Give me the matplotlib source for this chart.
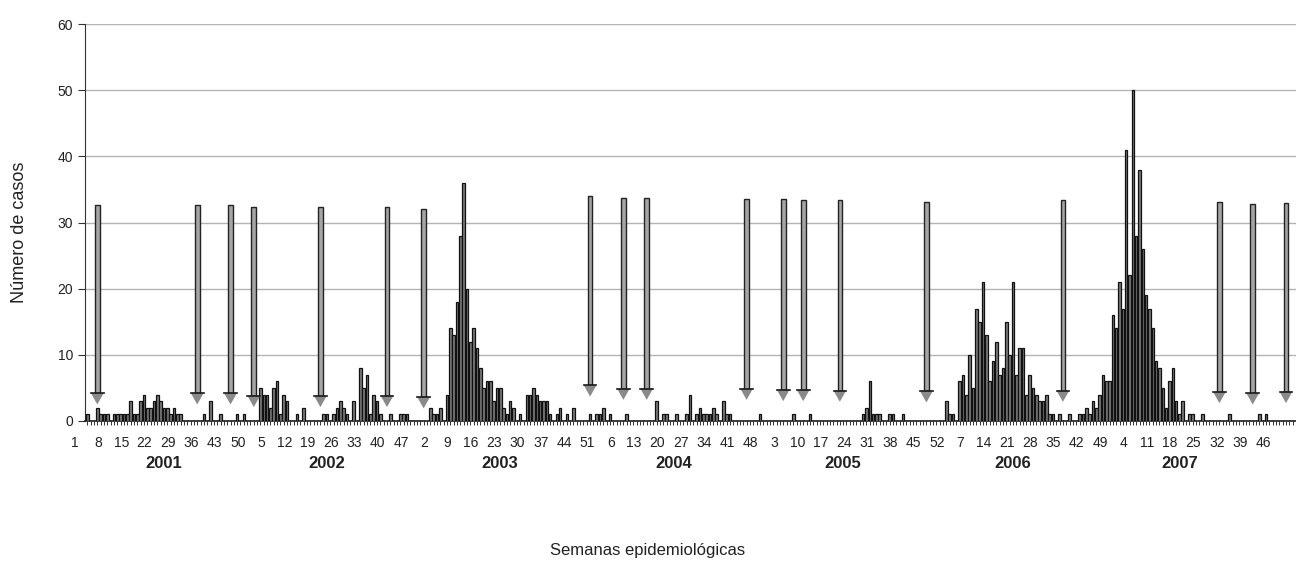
import numpy as np
import matplotlib
matplotlib.use("Agg")
import matplotlib.pyplot as plt

plt.rcParams['font.family'] = ['Liberation Sans', 'DejaVu Sans']

# casos semanales por año (52 semanas cada uno)
years = ["2001", "2002", "2003", "2004", "2005", "2006", "2007"]
cases_2001 = [1, 0, 0, 2, 1, 1, 1, 0, 1, 1, 1, 1, 1, 3, 1, 1, 3, 4, 2, 2,
              3, 4, 3, 2, 2, 1, 2, 1, 1, 0, 0, 0, 0, 0, 0, 1, 0, 3, 0, 0,
              1, 0, 0, 0, 0, 1, 0, 1, 0, 0, 0, 0]
cases_2002 = [5, 4, 4, 2, 5, 6, 1, 4, 3, 0, 0, 1, 0, 2, 0, 0, 0, 0, 0, 1,
              1, 0, 1, 2, 3, 2, 1, 0, 3, 0, 8, 5, 7, 1, 4, 3, 1, 0, 0, 1,
              0, 0, 1, 1, 1, 0, 0, 0, 0, 0, 0, 2]
cases_2003 = [1, 1, 2, 0, 4, 14, 13, 18, 28, 36, 20, 12, 14, 11, 8, 5, 6, 6, 3, 5,
              5, 2, 1, 3, 2, 0, 1, 0, 4, 4, 5, 4, 3, 3, 3, 1, 0, 1, 2, 0,
              1, 0, 2, 0, 0, 0, 0, 1, 0, 1, 1, 2]
cases_2004 = [0, 1, 0, 0, 0, 0, 1, 0, 0, 0, 0, 0, 0, 0, 0, 3, 0, 1, 1, 0,
              0, 1, 0, 0, 1, 4, 0, 1, 2, 1, 1, 1, 2, 1, 0, 3, 1, 1, 0, 0,
              0, 0, 0, 0, 0, 0, 1, 0, 0, 0, 0, 0]
cases_2005 = [0, 0, 0, 0, 1, 0, 0, 0, 0, 1, 0, 0, 0, 0, 0, 0, 0, 0, 0, 0,
              0, 0, 0, 0, 0, 1, 2, 6, 1, 1, 1, 0, 0, 1, 1, 0, 0, 1, 0, 0,
              0, 0, 0, 0, 0, 0, 0, 0, 0, 0, 3, 1]
cases_2006 = [1, 0, 6, 7, 4, 10, 5, 17, 15, 21, 13, 6, 9, 12, 7, 8, 15, 10, 21, 7,
              11, 11, 4, 7, 5, 4, 3, 3, 4, 1, 1, 0, 1, 0, 0, 1, 0, 0, 1, 1,
              2, 1, 3, 2, 4, 7, 6, 6, 16, 14, 21, 17]
cases_2007 = [41, 22, 50, 28, 38, 26, 19, 17, 14, 9, 8, 5, 2, 6, 8, 3, 1, 3, 0, 1,
              1, 0, 0, 1, 0, 0, 0, 0, 0, 0, 0, 1, 0, 0, 0, 0, 0, 0, 0, 0,
              1, 0, 1, 0, 0, 0, 0, 0, 0, 0, 0, 0]

# flechas: semana (índice correlativo), extremo superior y base de la punta
arrow_week = [3, 33, 43, 50, 70, 90, 101, 151, 161, 168, 198, 209, 215, 226,
              252, 293, 340, 350, 360]
arrow_top = [32.6, 32.6, 32.6, 32.4, 32.4, 32.4, 32.1, 34.0, 33.7, 33.7, 33.6,
             33.6, 33.4, 33.4, 33.1, 33.4, 33.1, 32.8, 33.0]
arrow_base = [4.2, 4.2, 4.2, 3.8, 3.8, 3.8, 3.6, 5.4, 4.9, 4.9, 4.9, 4.7, 4.7,
              4.6, 4.5, 4.6, 4.4, 4.2, 4.4]

year_label_offset = [23, 20, 20, 20, 19, 18, 16]

cases = np.concatenate([cases_2001, cases_2002, cases_2003, cases_2004,
                        cases_2005, cases_2006, cases_2007])
weeks = np.arange(len(cases))

fig = plt.figure(figsize=(12.96, 5.61), dpi=100)
ax = fig.add_axes([85 / 1296, 140 / 561, 1 - 85 / 1296, 397 / 561])

ax.bar(weeks, cases, width=0.78, color="#7a7a7a", edgecolor="#111111",
       linewidth=0.9, zorder=3)

# flechas
aw = np.array(arrow_week, dtype=float)
at = np.array(arrow_top)
ab = np.array(arrow_base)
ax.bar(aw, at - ab, bottom=ab, width=1.4, color="#a5a5a5",
       edgecolor="#222222", linewidth=1.0, zorder=4)
for x, b in zip(aw, ab):
    ax.fill([x - 1.9, x + 1.9, x], [b, b, b - 1.7], color="#8a8a8a",
            zorder=5, linewidth=0)
    ax.plot([x - 1.9, x + 1.9], [b, b], color="#1a1a1a", lw=1.2, zorder=6)

ax.set_xlim(-0.7, 363.0)
ax.set_ylim(0, 60)
ax.set_yticks(np.arange(0, 61, 10))
ax.yaxis.grid(True, color="#b4b4b4", linewidth=1.0)
ax.set_axisbelow(True)
for s in ["top", "right"]:
    ax.spines[s].set_visible(False)
ax.spines["left"].set_color("#333333")
ax.spines["bottom"].set_color("#222222")
ax.spines["bottom"].set_linewidth(1.2)
ax.tick_params(axis="y", labelsize=10, length=5, color="#333333",
               labelcolor="#222222")

# marcas semanales y etiquetas cada 7 semanas
ax.set_xticks(weeks, minor=True)
ax.set_xticks([])
ax.tick_params(axis="x", which="minor", length=3, width=0.7, color="#333333")
xt = ax.get_xaxis_transform()
for j in range(0, len(cases), 7):
    ax.text(j - 3.8, -0.055, str(j % 52 + 1), transform=xt, ha="center",
            va="center", fontsize=10, color="#222222", clip_on=False)

for k, y in enumerate(years):
    ax.text(k * 52 + year_label_offset[k], -0.106, y, transform=xt,
            ha="center", va="center", fontsize=12, fontweight="bold",
            color="#222222", clip_on=False)

fig.text(648 / 1296, 1 - 550 / 561, "Semanas epidemiológicas", ha="center",
         va="center", fontsize=12, color="#222222")
fig.text(20 / 1296, 1 - 232 / 561, "Número de casos", ha="center",
         va="center", rotation=90, fontsize=13, color="#222222")

fig.savefig("out.png", dpi=100)
